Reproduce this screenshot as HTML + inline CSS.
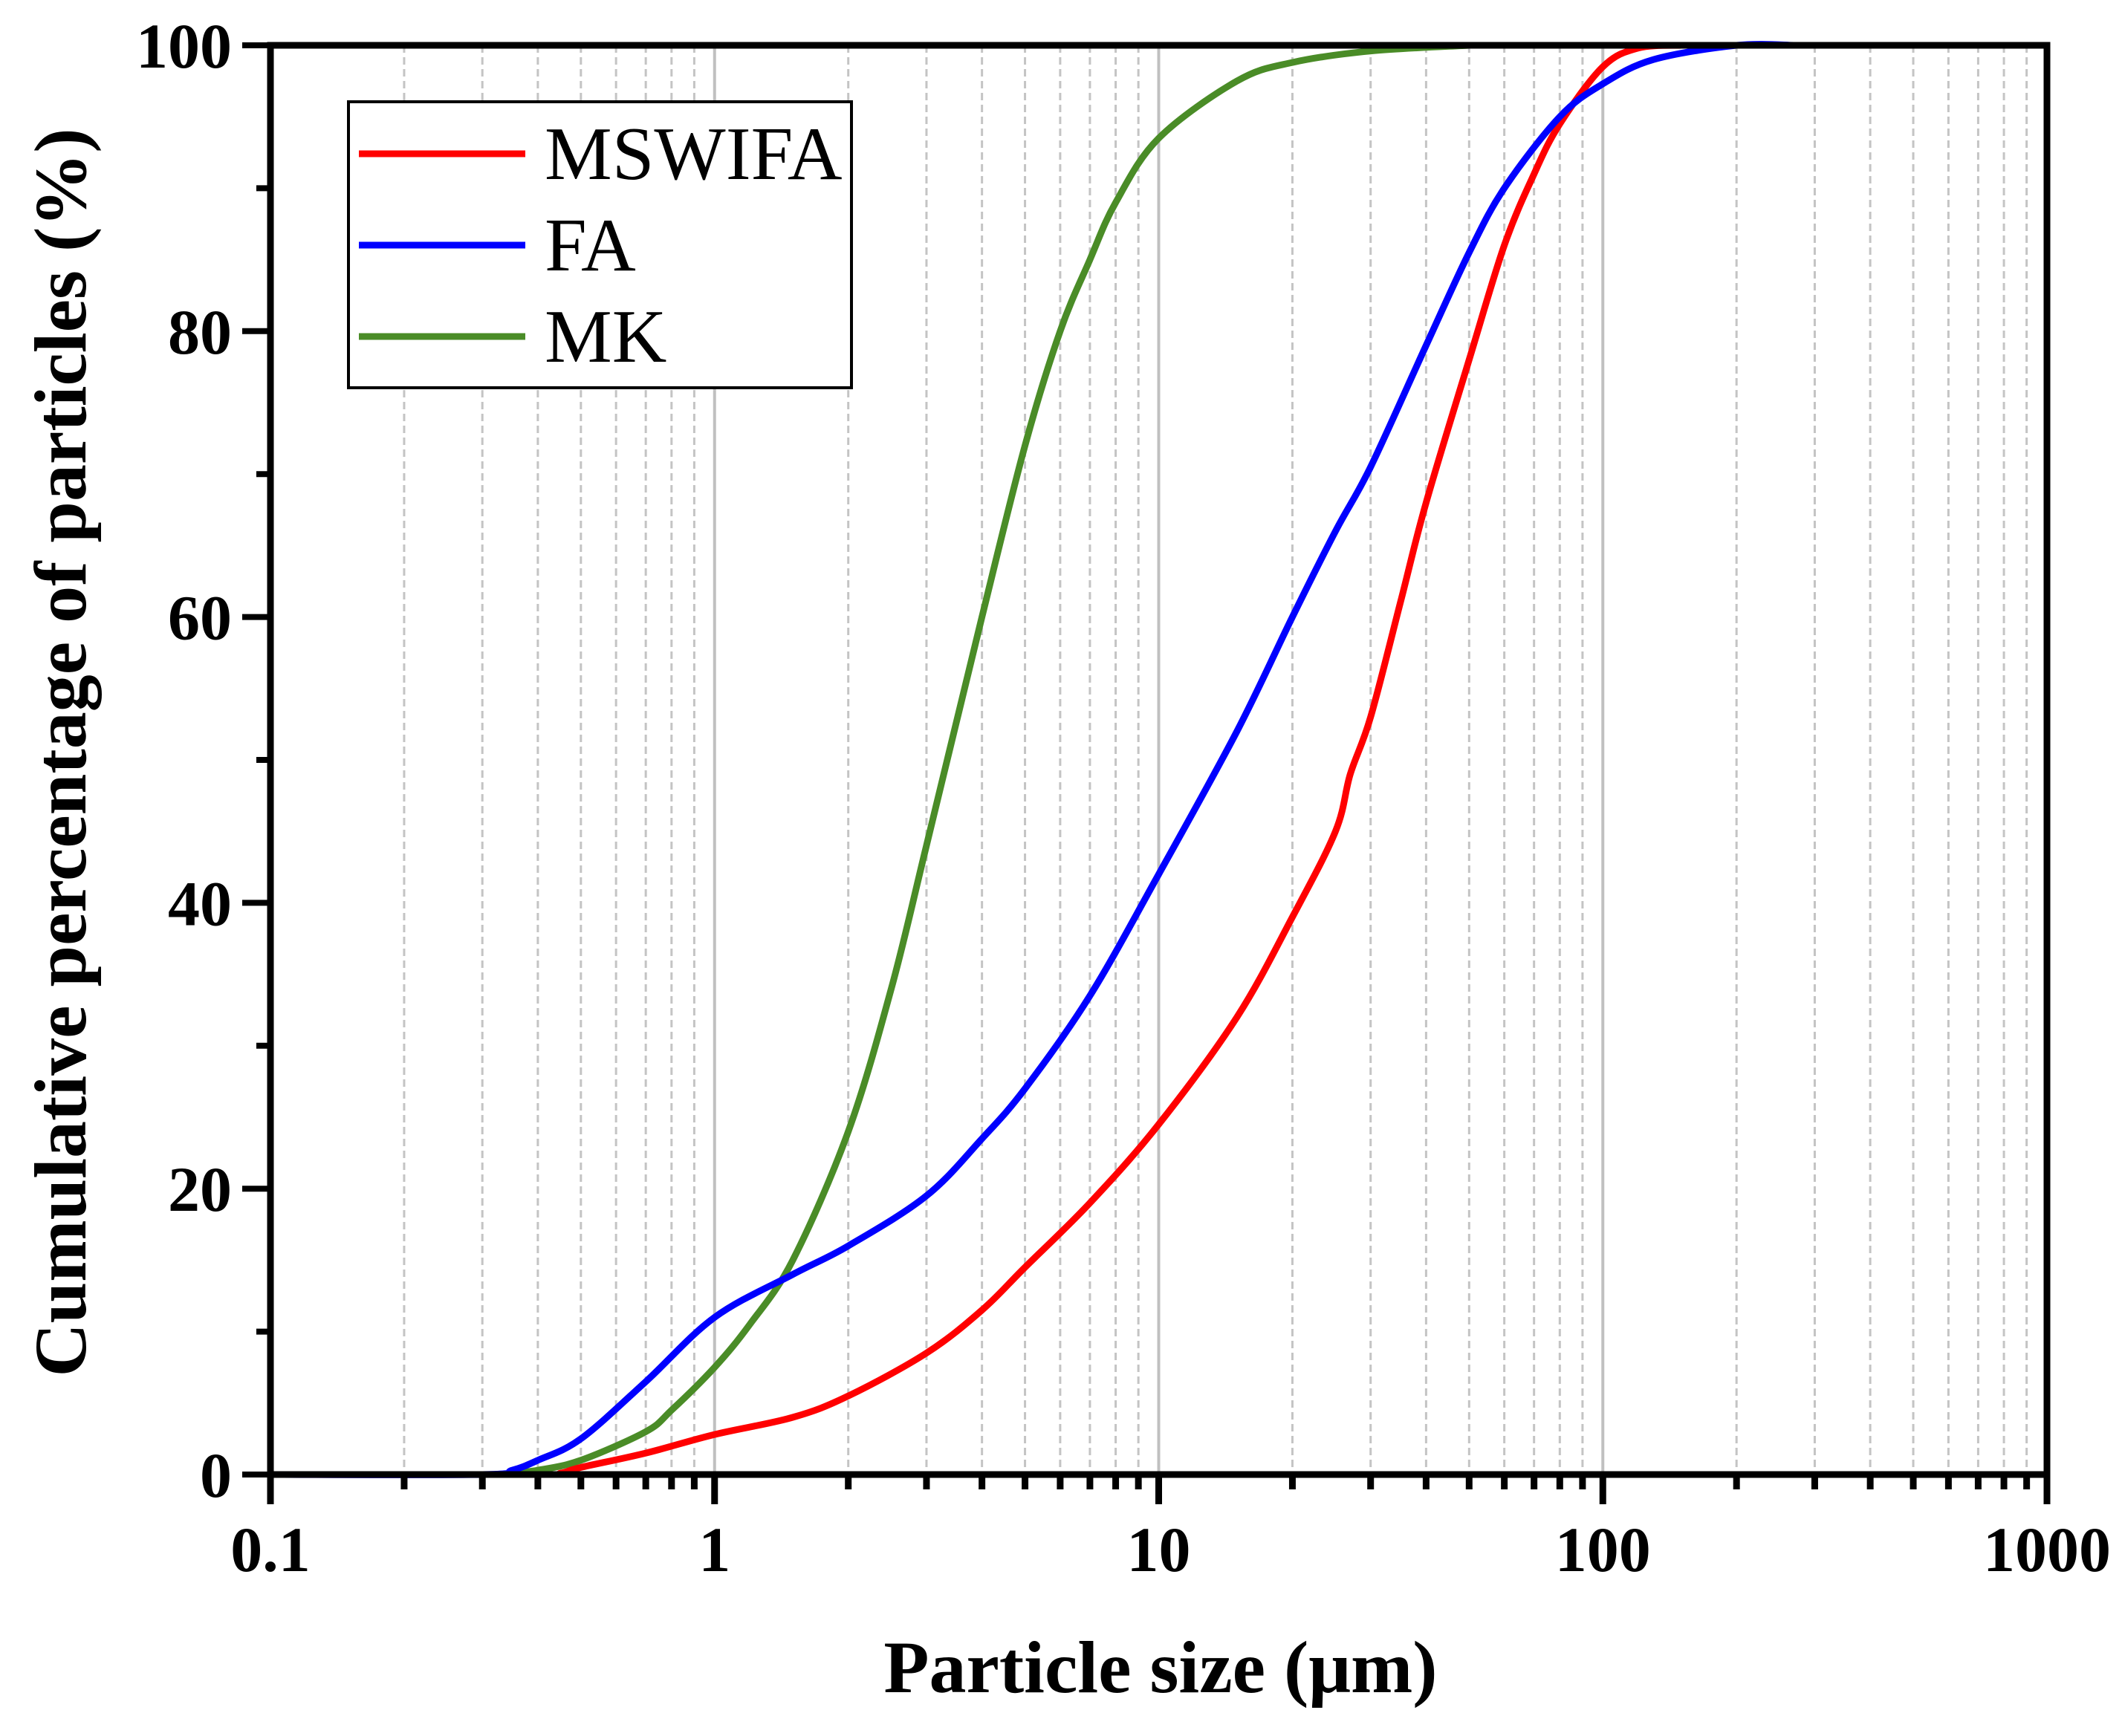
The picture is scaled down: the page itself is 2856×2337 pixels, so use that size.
<!DOCTYPE html>
<html><head><meta charset="utf-8"><style>
html,body{margin:0;padding:0;background:#fff;}
svg{display:block;font-family:"Liberation Serif",serif;}
</style></head><body>
<svg id="chart" width="2856" height="2337" viewBox="0 0 2856 2337" xmlns="http://www.w3.org/2000/svg">
<g id="grid"></g>
<g id="series"></g>
<g id="axes"></g>
<g id="legend">
  <rect x="469" y="137" width="677" height="385" fill="#fff" stroke="#000" stroke-width="4"/>
  <line x1="483" y1="207" x2="707" y2="207" stroke="#ff0000" stroke-width="9"/>
  <text x="733" y="241" font-size="102">MSWIFA</text>
  <line x1="483" y1="330" x2="707" y2="330" stroke="#0000ff" stroke-width="9"/>
  <text x="733" y="364" font-size="102">FA</text>
  <line x1="483" y1="453" x2="707" y2="453" stroke="#4a8c27" stroke-width="9"/>
  <text x="733" y="487" font-size="102">MK</text>
</g>
<text x="1562" y="2278" font-size="100" font-weight="bold" text-anchor="middle">Particle size (μm)</text>
<text transform="translate(115,1013) rotate(-90)" font-size="100" font-weight="bold" text-anchor="middle">Cumulative percentage of particles (%)</text>
</svg>
<script>
const xTicks = [0.1, 1, 10, 100, 1000];
const xTickLabels = ["0.1", "1", "10", "100", "1000"];
const yTicks = [0, 20, 40, 60, 80, 100];
const yTickLabels = ["0", "20", "40", "60", "80", "100"];
const mswifaX = [0.1,0.4,0.45,0.5,0.7,1,1.5,2,3,4,5,7,10,15,20,25,27,30,35,40,50,60,70,80,100,120,150];
const mswifaY = [0,0,0.1,0.5,1.5,2.8,4,5.5,8.5,11.5,14.5,19,24.5,32,39,45,49,53,61,68,78,86,91,94.5,98.5,99.8,100];
const faX = [0.1,0.3,0.35,0.4,0.5,0.7,1,1.5,2,3,4,5,7,10,15,20,25,30,40,50,60,80,100,130,200,270];
const faY = [0,0,0.3,1,2.5,6.5,11,14,16,19.5,23.5,27,33.5,42,52,60,66,70.5,79,85.5,90,95,97.3,99,100,100];
const mkX = [0.33,0.4,0.5,0.7,0.8,1,1.2,1.5,2,2.5,3,4,5,6,7,8,10,15,20,30,50];
const mkY = [0,0.3,1,3,4.5,7.5,10.5,15,24,34,44,60,72,80,85,89,93.5,97.5,98.8,99.6,100];

const X0 = 364, X1 = 2755, Y0 = 1985, Y1 = 61;
const NS = "http://www.w3.org/2000/svg";
function xs(v){ return X0 + (Math.log10(v) - Math.log10(0.1)) / 4 * (X1 - X0); }
function ys(v){ return Y0 - v / 100 * (Y0 - Y1); }
function mk(tag, attrs, parent){
  const el = document.createElementNS(NS, tag);
  for (const k in attrs) el.setAttribute(k, attrs[k]);
  parent.appendChild(el); return el;
}
const grid = document.getElementById('grid');
const axes = document.getElementById('axes');
const series = document.getElementById('series');

for (let d = -1; d < 3; d++) {
  for (let m = 2; m <= 9; m++) {
    const x = xs(m * Math.pow(10, d));
    const g = mk('line', {x1:x, y1:Y1, x2:x, y2:Y0, stroke:'#c4c4c4', 'stroke-width':3, 'stroke-dasharray':'10 6'}, grid);
    
    
    const t = mk('line', {x1:x, y1:Y0, x2:x, y2:Y0+20, stroke:'#000', 'stroke-width':9}, axes);
    
    
  }
}
xTicks.forEach((v, i) => {
  const x = xs(v);
  if (i > 0 && i < xTicks.length - 1) {
    const g = mk('line', {x1:x, y1:Y1, x2:x, y2:Y0, stroke:'#c0c0c0', 'stroke-width':4}, grid);
    
    
  }
  const t = mk('line', {x1:x, y1:Y0, x2:x, y2:Y0+40, stroke:'#000', 'stroke-width':9}, axes);
  
  
  const l = mk('text', {x:x, y:2115, 'font-size':86, 'font-weight':'bold', 'text-anchor':'middle'}, axes);
  l.textContent = xTickLabels[i];
  
  
});
yTicks.forEach((v, i) => {
  const y = ys(v);
  const t = mk('line', {x1:X0-38, y1:y, x2:X0, y2:y, stroke:'#000', 'stroke-width':8}, axes);
  
  
  if (i < yTicks.length - 1) {
    const ym = ys(v + 10);
    const tm = mk('line', {x1:X0-19, y1:ym, x2:X0, y2:ym, stroke:'#000', 'stroke-width':8}, axes);
    
    
  }
  const l = mk('text', {x:312, y:y+30, 'font-size':86, 'font-weight':'bold', 'text-anchor':'end'}, axes);
  l.textContent = yTickLabels[i];
  
  
});
const frame = mk('rect', {x:X0, y:Y1, width:X1-X0, height:Y0-Y1, fill:'none', stroke:'#000', 'stroke-width':9}, axes);



function drawSeries(xa, ya, color, name){
  const P = xa.map((v, i) => [xs(v), ys(ya[i])]);
  let d = 'M' + P[0][0].toFixed(1) + ',' + P[0][1].toFixed(1);
  for (let i = 0; i < P.length - 1; i++) {
    const p0 = P[Math.max(0, i-1)], p1 = P[i], p2 = P[i+1], p3 = P[Math.min(P.length-1, i+2)];
    const c1x = p1[0] + (p2[0]-p0[0])/6, c1y = p1[1] + (p2[1]-p0[1])/6;
    const c2x = p2[0] - (p3[0]-p1[0])/6, c2y = p2[1] - (p3[1]-p1[1])/6;
    d += ' C' + c1x.toFixed(1) + ',' + c1y.toFixed(1) + ' ' + c2x.toFixed(1) + ',' + c2y.toFixed(1) + ' ' + p2[0].toFixed(1) + ',' + p2[1].toFixed(1);
  }
  const p = mk('path', {d:d, fill:'none', stroke:color, 'stroke-width':9, 'stroke-linejoin':'round', 'stroke-linecap':'round'}, series);
  
  
}
drawSeries(mkX, mkY, '#4a8c27', 'mk-curve');
drawSeries(mswifaX, mswifaY, '#ff0000', 'mswifa-curve');
drawSeries(faX, faY, '#0000ff', 'fa-curve');
</script>
</body></html>
